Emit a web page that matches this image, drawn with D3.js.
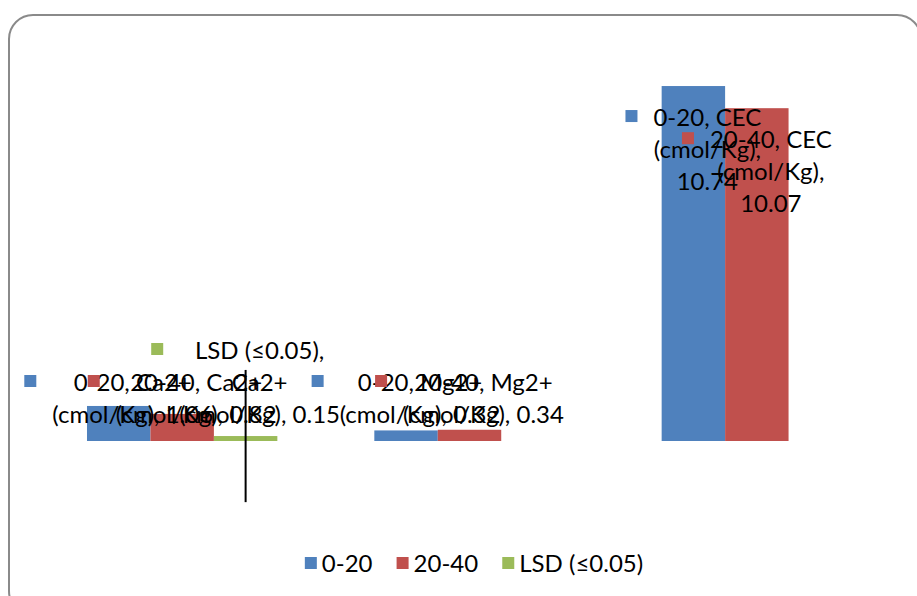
<!DOCTYPE html>
<html>
<head>
<meta charset="utf-8">
<script src="https://cdn.jsdelivr.net/npm/d3@7"></script>
<style>
  html, body { margin: 0; padding: 0; background: #fff; }
  svg { display: block; }
  text { font-family: Lato, "Open Sans", sans-serif; fill: #000; }
</style>
</head>
<body>
<svg id="chart" width="917" height="596"></svg>
<script>
// Soil exchangeable cations by sampling depth
const categories = ["Ca2+", "Mg2+", "CEC"];
const unit = "(cmol/Kg)";
const seriesNames = ["0-20", "20-40", "LSD (≤0.05)"];
const depth0to20 = [1.06, 0.32, 10.74];
const depth20to40 = [0.82, 0.34, 10.07];
const lsd = [0.15, null, null];
const lsdError = [2.0, null, null];
const colors = ["#4F81BD", "#C0504D", "#9BBB59"];
const yDomain = [-2, 12];

const seriesValues = [depth0to20, depth20to40, lsd];

const W = 917, H = 596;
const plot = { left: 38.5, right: 900.5, top: 44.4, bottom: 507.1 };
const fontSize = 24;
const lineH = 32;

const svg = d3.select("#chart");

// chart frame with rounded corners
svg.append("rect")
  .attr("x", 9).attr("y", 15)
  .attr("width", 912).attr("height", 600)
  .attr("rx", 24).attr("ry", 24)
  .attr("fill", "#fff")
  .attr("stroke", "#8a8a8a")
  .attr("stroke-width", 2);

const x0 = d3.scaleBand().domain(categories).range([plot.left, plot.right]).padding(0);
const gap = x0.step() * 0.3375;
const x1 = d3.scaleBand().domain(seriesNames).range([gap / 2, x0.step() - gap / 2]).padding(0);
const y = d3.scaleLinear().domain(yDomain).range([plot.bottom, plot.top]);

// flatten into bar records
const bars = [];
seriesNames.forEach((s, si) => {
  categories.forEach((c, ci) => {
    const v = seriesValues[si][ci];
    if (v == null) return;
    bars.push({ series: s, si, cat: c, ci, value: v, err: si === 2 ? lsdError[ci] : null });
  });
});

const g = svg.append("g");

g.selectAll("rect.bar")
  .data(bars)
  .join("rect")
  .attr("class", "bar")
  .attr("x", d => x0(d.cat) + x1(d.series))
  .attr("width", x1.bandwidth())
  .attr("y", d => y(Math.max(0, d.value)))
  .attr("height", d => Math.abs(y(d.value) - y(0)))
  .attr("fill", d => colors[d.si]);

// error bars (no caps)
g.selectAll("line.err")
  .data(bars.filter(d => d.err != null))
  .join("line")
  .attr("class", "err")
  .attr("x1", d => x0(d.cat) + x1(d.series) + x1.bandwidth() / 2)
  .attr("x2", d => x0(d.cat) + x1(d.series) + x1.bandwidth() / 2)
  .attr("y1", d => y(d.value + d.err))
  .attr("y2", d => y(d.value - d.err))
  .attr("stroke", "#000")
  .attr("stroke-width", 2);

// data label text lines: series name, category, value
function labelLines(d) {
  const v = d.value.toFixed(2);
  if (d.ci === 2) return [`${d.series}, ${d.cat}`, `${unit},`, v];
  if (d.si === 2) return [`${d.series},`, d.cat, `${unit}, ${v}`];
  return [`${d.series}, ${d.cat}`, `${unit}, ${v}`];
}

const keySize = 12, keyGap = 16;
const labels = g.selectAll("g.lbl").data(bars).join("g").attr("class", "lbl");

labels.each(function (d) {
  const el = d3.select(this);
  const lines = labelLines(d);
  const txt = el.append("text").attr("font-size", fontSize).attr("text-anchor", "middle");
  const spans = lines.map((ln, i) => txt.append("tspan").text(ln));
  const widths = spans.map(s => s.node().getComputedTextLength());
  const tw = d3.max(widths);
  const cx = x0(d.cat) + x1(d.series) + x1.bandwidth() / 2;
  const blockW = keySize + keyGap + tw;
  const left = cx - blockW / 2;
  const blockH = lines.length * lineH;
  const top = Math.min(y(d.value) + 15, y(0) - 11 - blockH);
  const textCx = left + keySize + keyGap + tw / 2;
  spans.forEach((s, i) => {
    s.attr("x", textCx).attr("y", top + lineH * i + lineH / 2).attr("dy", "0.36em");
  });
  el.insert("rect", "text")
    .attr("x", left)
    .attr("y", top + lineH / 2 - keySize / 2 - 1)
    .attr("width", keySize).attr("height", keySize)
    .attr("fill", colors[d.si]);
});

// legend
const legend = svg.append("g");
const items = legend.selectAll("g").data(seriesNames).join("g");
items.append("rect").attr("width", keySize).attr("height", keySize).attr("fill", (d, i) => colors[i]);
items.append("text").attr("font-size", fontSize).attr("x", keySize + 5).attr("y", keySize / 2).attr("dy", "0.36em").text(d => d);
let lx = 0;
const itemX = [];
const itemGap = 24;
items.each(function () {
  itemX.push(lx);
  lx += this.getBBox().width + itemGap;
});
const legendW = lx - itemGap;
const legendLeft = 474 - legendW / 2;
items.attr("transform", (d, i) => `translate(${legendLeft + itemX[i]},${557})`);
</script>
</body>
</html>
